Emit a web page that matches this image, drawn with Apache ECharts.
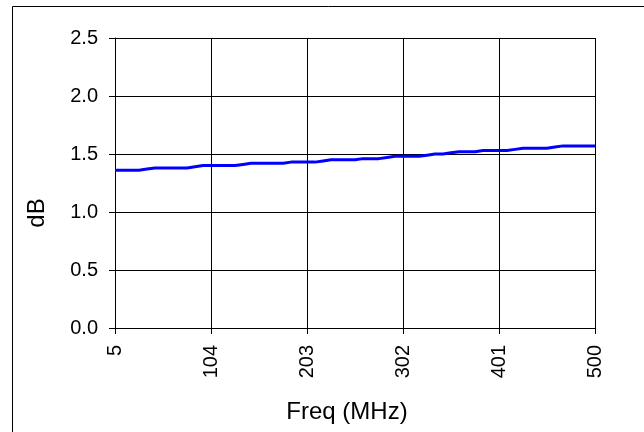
<!DOCTYPE html>
<html>
<head>
<meta charset="utf-8">
<script src="https://cdn.jsdelivr.net/npm/echarts@6/dist/echarts.min.js"></script>
<style>
html,body{margin:0;padding:0;background:#fff;}
#c{width:644px;height:432px;}
</style>
</head>
<body>
<div id="c"></div>
<script>
var freqs = [5, 13.25, 21.5, 29.75, 38, 46.25, 54.5, 62.75, 71, 79.25, 87.5, 95.75, 104, 112.25, 120.5, 128.75, 137, 145.25, 153.5, 161.75, 170, 178.25, 186.5, 194.75, 203, 211.25, 219.5, 227.75, 236, 244.25, 252.5, 260.75, 269, 277.25, 285.5, 293.75, 302, 310.25, 318.5, 326.75, 335, 343.25, 351.5, 359.75, 368, 376.25, 384.5, 392.75, 401, 409.25, 417.5, 425.75, 434, 442.25, 450.5, 458.75, 467, 475.25, 483.5, 491.75, 500];
var dB = [1.36, 1.36, 1.36, 1.36, 1.37, 1.38, 1.38, 1.38, 1.38, 1.38, 1.39, 1.40, 1.40, 1.40, 1.40, 1.40, 1.41, 1.42, 1.42, 1.42, 1.42, 1.42, 1.43, 1.43, 1.43, 1.43, 1.44, 1.45, 1.45, 1.45, 1.45, 1.46, 1.46, 1.46, 1.47, 1.48, 1.48, 1.48, 1.48, 1.49, 1.50, 1.50, 1.51, 1.52, 1.52, 1.52, 1.53, 1.53, 1.53, 1.53, 1.54, 1.55, 1.55, 1.55, 1.55, 1.56, 1.57, 1.57, 1.57, 1.57, 1.57];
var xLabelEvery = 12;
var xTitle = 'Freq (MHz)';
var yTitle = 'dB';

var chart = echarts.init(document.getElementById('c'), null, {renderer: 'canvas'});
var font = 'Liberation Sans, Arial, sans-serif';
var showIdx = function (i) { return i % xLabelEvery === 0; };
chart.setOption({
  animation: false,
  backgroundColor: '#fff',
  graphic: [{
    type: 'rect',
    shape: {x: 12.5, y: 6.5, width: 700, height: 500},
    style: {fill: 'none', stroke: '#000', lineWidth: 1},
    silent: true
  }],
  grid: {left: 115, right: 49, top: 38, bottom: 104, containLabel: false},
  xAxis: {
    type: 'category',
    data: freqs.map(String),
    boundaryGap: false,
    name: xTitle,
    nameLocation: 'middle',
    nameGap: 72,
    nameTextStyle: {fontFamily: font, fontSize: 24, color: '#000', padding: [0, 16, 0, 0]},
    axisLine: {lineStyle: {color: '#000', width: 1}},
    axisTick: {show: true, interval: function (i) { return showIdx(i); }, length: 6, lineStyle: {color: '#000'}},
    axisLabel: {interval: function (i) { return showIdx(i); }, rotate: 90, margin: 17, fontFamily: font, fontSize: 20, color: '#000'},
    splitLine: {show: true, interval: function (i) { return showIdx(i); }, lineStyle: {color: '#000', width: 1}}
  },
  yAxis: {
    type: 'value',
    min: 0, max: 2.5, interval: 0.5,
    name: yTitle,
    nameLocation: 'middle',
    nameGap: 66,
    nameTextStyle: {fontFamily: font, fontSize: 24, color: '#000', padding: [0, 60, 0, 0]},
    axisLine: {show: true, lineStyle: {color: '#000', width: 1}},
    axisTick: {show: true, length: 6, lineStyle: {color: '#000'}},
    axisLabel: {margin: 17, fontFamily: font, fontSize: 20, color: '#000', formatter: function (v) { return v.toFixed(1); }},
    splitLine: {show: true, lineStyle: {color: '#000', width: 1}}
  },
  series: [{
    type: 'line',
    data: dB,
    showSymbol: false,
    symbol: 'none',
    lineStyle: {color: '#0000ff', width: 3},
    clip: false
  }]
});
</script>
</body>
</html>
